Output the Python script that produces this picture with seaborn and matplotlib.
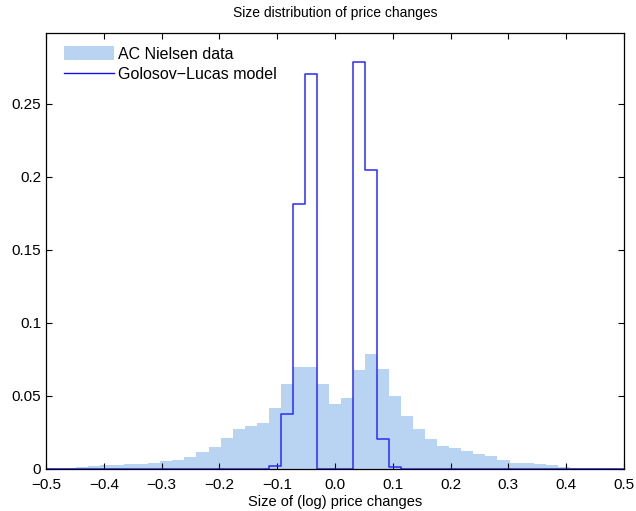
import matplotlib
matplotlib.use("Agg")
import matplotlib.pyplot as plt
from matplotlib.patches import Patch
from matplotlib.lines import Line2D
import numpy as np
import pandas as pd
import seaborn as sns

# bins are centred on k/48, k = -24..24
bin_index = list(range(-24, 25))

# AC Nielsen data, height of each bin
nielsen = [0.0005, 0.0007, 0.0009, 0.0016, 0.0023, 0.0027, 0.0027, 0.0034, 0.0034,
           0.0043, 0.0055, 0.0064, 0.0084, 0.0116, 0.0151, 0.0212, 0.0274, 0.0295,
           0.0315, 0.0418, 0.0582, 0.0699, 0.0699, 0.0582, 0.0445, 0.0486, 0.0678,
           0.0788, 0.0685, 0.0500, 0.0363, 0.0274, 0.0205, 0.0158, 0.0144, 0.0123,
           0.0103, 0.0089, 0.0062, 0.0041, 0.0041, 0.0034, 0.0027, 0.0016, 0.0009,
           0.0006, 0.0005, 0.0004, 0.0003]

# Golosov-Lucas model
golosov = [0, 0, 0, 0, 0, 0, 0, 0, 0, 0, 0, 0, 0, 0, 0, 0, 0, 0, 0,
           0.0023, 0.0377, 0.1815, 0.2703, 0, 0, 0, 0.2790, 0.2046, 0.0203,
           0.0012, 0, 0, 0, 0, 0, 0, 0, 0, 0, 0, 0, 0, 0, 0, 0, 0, 0, 0, 0]

xticks = [-0.5, -0.4, -0.3, -0.2, -0.1, 0, 0.1, 0.2, 0.3, 0.4, 0.5]
yticks = [0, 0.05, 0.1, 0.15, 0.2, 0.25]
ytick_labels = ["0", "0.05", "0.1", "0.15", "0.2", "0.25"]

df = pd.DataFrame({'center': np.array(bin_index) / 48.0,
                   'nielsen': nielsen, 'golosov': golosov})
edges = [(k - 0.5) / 48.0 for k in range(-24, 26)]

plt.rcParams['font.family'] = ['Liberation Sans', 'DejaVu Sans']
plt.rcParams['xtick.direction'] = 'in'
plt.rcParams['ytick.direction'] = 'in'

fig = plt.figure(figsize=(6.36, 5.11), dpi=100)
ax = fig.add_axes([0.0723, 0.0822, 0.9087, 0.8538])

data_color = '#b9d4f3'
model_color = '#2a2aff'

sns.histplot(data=df, x='center', weights='nielsen', bins=edges, stat='count',
             element='bars', color=data_color, alpha=1, linewidth=0, ax=ax)
sns.histplot(data=df, x='center', weights='golosov', bins=edges, stat='count',
             element='step', fill=False, color=model_color, linewidth=1.1, ax=ax)

ax.set_xlim(-0.5, 0.5)
ax.set_ylim(0, 0.2988)
ax.set_xticks(xticks)
ax.set_yticks(yticks)
ax.set_yticklabels(ytick_labels)
ax.tick_params(labelsize=11, top=True, right=True, length=4, width=0.8)
ax.tick_params(axis='x', pad=6.5)
for s in ax.spines.values():
    s.set_linewidth(0.9)

ax.set_xlabel('Size of (log) price changes', fontsize=10.5, labelpad=2)
ax.set_ylabel('')
ax.set_title('Size distribution of price changes', fontsize=10, pad=11)

handles = [Patch(facecolor=data_color, edgecolor='none', label='AC Nielsen data'),
           Line2D([0], [0], color='#1010ee', lw=1, label='Golosov\u2212Lucas model')]
ax.legend(handles=handles, loc='upper left', bbox_to_anchor=(0.012, 0.995),
          frameon=False, fontsize=11.5, handlelength=3.1, handleheight=1.0,
          labelspacing=0.3, borderaxespad=0.3, handletextpad=0.3)

fig.savefig('out.png', dpi=100)
